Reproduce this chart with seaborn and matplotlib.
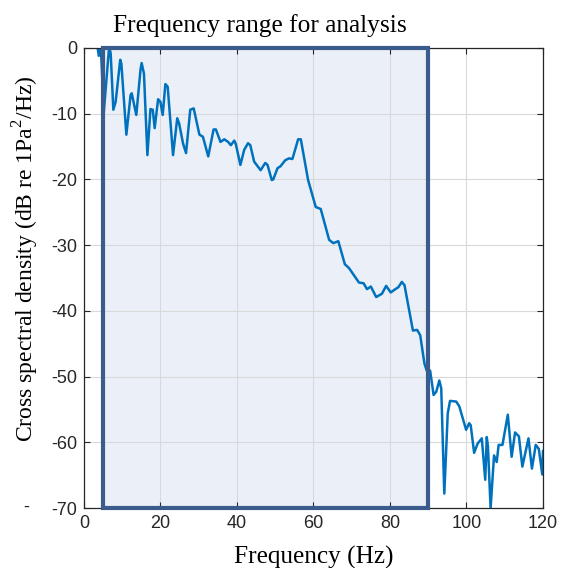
import matplotlib
matplotlib.use("Agg")
import matplotlib.pyplot as plt
import seaborn as sns
import pandas as pd
from matplotlib.patches import Rectangle

# ---- data ----
freq = [3.4, 3.9, 4.4, 5.2, 6.6, 7.0, 7.7, 8.3, 9.5, 9.8, 11.1, 12.2, 12.5, 13.7,
        14.8, 15.1, 15.7, 16.6, 17.4, 18.0, 18.5, 19.4, 20.0, 20.6, 21.3, 21.9,
        23.3, 24.4, 24.9, 25.9, 26.7, 27.8, 28.7, 30.2, 31.1, 32.5, 33.9, 34.5,
        35.7, 36.7, 37.7, 38.4, 39.3, 39.7, 40.9, 41.9, 42.9, 43.5, 44.5, 46.2,
        47.4, 48.0, 49.1, 49.5, 50.6, 51.4, 52.6, 53.6, 54.5, 56.0, 56.7, 58.6,
        60.6, 61.9, 64.1, 65.2, 66.5, 68.2, 69.3, 71.9, 73.1, 74.0, 75.0, 76.4,
        77.9, 79.0, 80.2, 81.4, 82.2, 83.1, 83.8, 86.0, 87.1, 87.9, 89.0, 89.6,
        90.5, 91.4, 92.1, 92.9, 93.4, 94.2, 95.1, 95.7, 97.3, 98.1, 99.9, 100.7,
        101.1, 102.0, 102.9, 104.0, 104.9, 105.3, 105.6, 106.3, 107.2, 107.9,
        108.4, 109.4, 110.8, 111.8, 112.7, 113.7, 114.6, 116.2, 117.1, 118.1,
        118.9, 119.8, 120.0]
csd_db = [0.8, -1.2, 0.5, -9.8, 0.2, -0.8, -9.4, -8.2, -1.8, -2.4, -13.2, -7.2, -6.9, -10.2,
          -3.3, -2.3, -3.9, -16.3, -9.3, -9.4, -12.2, -7.8, -8.2, -10.2, -5.5, -5.9,
          -16.3, -10.7, -11.5, -14.5, -16.0, -9.4, -9.2, -13.2, -13.5, -16.5, -12.4, -12.4,
          -14.3, -13.9, -14.3, -14.8, -14.1, -14.6, -17.8, -15.5, -14.5, -14.8, -17.3, -18.6,
          -17.5, -17.8, -20.1, -20.0, -18.3, -18.0, -17.1, -16.8, -16.9, -13.9, -13.9, -20.1,
          -24.2, -24.5, -29.2, -29.7, -29.4, -32.9, -33.5, -35.7, -35.8, -36.7, -36.3, -37.9,
          -37.4, -36.2, -37.2, -36.7, -36.4, -35.6, -36.1, -43.0, -42.9, -43.7, -48.0, -49.1,
          -49.1, -52.8, -52.3, -50.6, -51.8, -67.8, -55.6, -53.7, -53.8, -54.5, -58.1, -57.1,
          -57.4, -61.6, -60.2, -59.4, -65.7, -59.2, -60.6, -70.0, -62.0, -63.0,
          -60.4, -60.4, -55.8, -62.2, -58.5, -59.1, -63.7, -59.4, -64.0, -60.4,
          -61.0, -64.9, -61.3]
band = [5, 90]          # analysis frequency range (Hz)
x_ticks = [0, 20, 40, 60, 80, 100, 120]
y_ticks = [0, -10, -20, -30, -40, -50, -60, -70]

title = "Frequency range for analysis"
xlabel = "Frequency (Hz)"
ylabel = "Cross spectral density (dB re 1Pa$^2$/Hz)"

df = pd.DataFrame({"f": freq, "csd": csd_db})

sns.set_theme(style="white")
plt.rcParams["font.family"] = ["Liberation Sans", "DejaVu Sans"]
plt.rcParams["mathtext.fontset"] = "custom"
plt.rcParams["mathtext.rm"] = "Liberation Serif"

fig = plt.figure(figsize=(5.63, 5.68), dpi=100)
ax = fig.add_axes([0.149, 0.1056, 0.8155, 0.81])

ymin, ymax = -70, 0
# shaded band
ax.add_patch(Rectangle((band[0], ymin), band[1] - band[0], ymax - ymin,
                       facecolor="#ebf0f8", edgecolor="none", zorder=0.5))
ax.grid(True, color="#d9d9d9", linewidth=0.8, zorder=1)
ax.set_axisbelow(True)

sns.lineplot(data=df, x="f", y="csd", ax=ax, color="#0072BD", linewidth=1.8,
             zorder=2, estimator=None, sort=False)

ax.add_patch(Rectangle((band[0], ymin), band[1] - band[0], ymax - ymin,
                       facecolor="none", edgecolor="#3b5b8c", linewidth=3.0,
                       zorder=3, clip_on=False))

ax.set_xlim(0, 120)
ax.set_ylim(ymin, ymax)
ax.set_xticks(x_ticks)
ax.set_yticks(y_ticks)
ax.set_xticklabels([str(v) for v in x_ticks])
ax.set_yticklabels([str(v) for v in y_ticks])
ax.tick_params(direction="in", length=4, width=0.8, colors="#262626",
               labelsize=13, top=True, right=True, bottom=True, left=True,
               labelcolor="#262626", pad=5)
for s in ax.spines.values():
    s.set_visible(True)
    s.set_color("#262626")
    s.set_linewidth(0.9)

serif = ["Liberation Serif", "DejaVu Serif"]
fig.text(113.3 / 563, 1 - 32.3 / 568, title, fontsize=18.3, family=serif,
         color="black", ha="left", va="baseline")
ax.set_xlabel(xlabel, fontsize=18.2, family=serif, color="black")
ax.xaxis.label.set_va("baseline")
ax.xaxis.set_label_coords(0.5, -0.1202)
ax.set_ylabel(ylabel, fontsize=17, family=serif, color="black")
ax.yaxis.set_label_coords(-0.094, 0.5424)

fig.text(0.046, 0.107, "-", fontsize=13, color="#262626", ha="center", va="center")

fig.savefig("out.png", dpi=100)
